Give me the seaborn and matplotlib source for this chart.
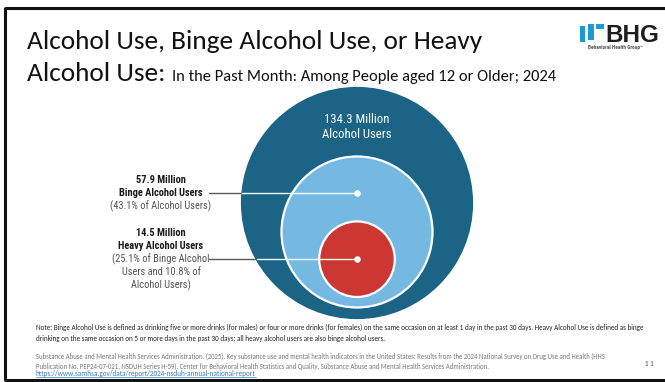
import matplotlib
matplotlib.use("Agg")
import matplotlib.pyplot as plt
import seaborn as sns
import pandas as pd
import numpy as np
from matplotlib.patches import Circle, Polygon

# Past-month alcohol use, people aged 12 or older, 2024 (millions)
groups = ["Alcohol Users", "Binge Alcohol Users", "Heavy Alcohol Users"]
users_millions = [134.3, 57.9, 14.5]
share_notes = ["", "(43.1% of Alcohol Users)",
               "(25.1% of Binge Alcohol\nUsers and 10.8% of\nAlcohol Users)"]
fill_colors = ["#1c6485", "#75b9e3", "#cd3733"]

sns.set_theme(style="white")
SLIDE = ["Carlito", "Lato", "DejaVu Sans"]
NARROW = ["Roboto Condensed", "Barlow Condensed", "Archivo Narrow", "DejaVu Sans"]
plt.rcParams["font.family"] = SLIDE

fig = plt.figure(figsize=(6.65, 3.82), dpi=100)
ax = fig.add_axes([0, 0, 1, 1])

# nested circles, area proportional to the number of users
R_OUT, CX, BASE, STEP = 115, 357, 318, 10.5
radii = [R_OUT * np.sqrt(v / users_millions[0]) for v in users_millions]
centers_y = [BASE - i * STEP - r for i, r in enumerate(radii)]
for i, (r, cy, col) in enumerate(zip(radii, centers_y, fill_colors)):
    ax.add_patch(Circle((CX, cy), r, facecolor=col,
                        edgecolor="white" if i else col, lw=1.6, zorder=2 + i))

# markers and leader lines for the two inner groups: gray on the page,
# white once they cross into the outer circle
dot_y = [centers_y[1] - 0.51 * radii[1], centers_y[2]]
dots = pd.DataFrame({"x": [CX, CX], "y": dot_y, "group": groups[1:]})
for y in dot_y:
    x_edge = CX - np.sqrt(radii[0] ** 2 - (y - centers_y[0]) ** 2)
    ax.plot([209, x_edge], [y, y], color="#5a5a5a", lw=1.0, zorder=5)
    ax.plot([x_edge, CX], [y, y], color="white", lw=1.0, zorder=5)
sns.scatterplot(data=dots, x="x", y="y", color="white", s=22,
                edgecolor="white", linewidth=0, zorder=6, ax=ax, legend=False)

ax.set_xlim(0, 665)
ax.set_ylim(382, 0)
ax.set_aspect("equal")
ax.axis("off")

# slide frame
ax.plot([5, 665], [8, 8], color="#111111", lw=2.2, solid_capstyle="butt")
ax.plot([5, 5], [7, 380], color="#111111", lw=2.2, solid_capstyle="butt")
ax.plot([4, 665], [380, 380], color="#111111", lw=2.2, solid_capstyle="butt")

# label inside the outer circle
ax.text(CX, 127, f"{users_millions[0]} Million\n{groups[0]}", color="white",
        ha="center", va="center", fontsize=9.2, family=NARROW,
        linespacing=1.15, zorder=8)

# labels to the left, one line at a time; the leader line meets the
# group-name line (binge) or the first share line (heavy)
label_x, LH = 161, 13
binge_lines = [(f"{users_millions[1]} Million", "bold", "#1a1a1a"),
               (groups[1], "bold", "#1a1a1a")] + \
              [(s, "normal", "#555555") for s in share_notes[1].split("\n")]
heavy_lines = [(f"{users_millions[2]} Million", "bold", "#1a1a1a"),
               (groups[2], "bold", "#1a1a1a")] + \
              [(s, "normal", "#555555") for s in share_notes[2].split("\n")]
for lines, y0 in [(binge_lines, dot_y[0] - LH), (heavy_lines, dot_y[1] - 2 * LH)]:
    for k, (txt, wt, col) in enumerate(lines):
        ax.text(label_x, y0 + k * LH, txt, ha="center", va="center",
                fontsize=7.5, fontweight=wt, family=NARROW, color=col)

# title
ax.text(27, 49, "Alcohol Use, Binge Alcohol Use, or Heavy", fontsize=19.7,
        color="#111111", va="baseline", ha="left")
ax.text(27, 81, "Alcohol Use:", fontsize=19.7, color="#111111",
        va="baseline", ha="left")
ax.text(172, 81, "In the Past Month: Among People aged 12 or Older; 2024",
        fontsize=11.9, color="#111111", va="baseline", ha="left")

# logo
logo_blue = "#1c9ad8"
ax.add_patch(Polygon([[580, 26], [585, 26], [585, 42], [580, 42]],
                     closed=True, color=logo_blue, lw=0))
ax.add_patch(Polygon([[588, 24], [594, 24], [594, 40], [588, 40]],
                     closed=True, color=logo_blue, lw=0))
ax.add_patch(Polygon([[596, 24], [604, 24], [604, 29], [596, 29]],
                     closed=True, color=logo_blue, lw=0))
ax.text(605, 42, "BHG", fontsize=17.5, fontweight="bold", color="#1e1e1e",
        va="baseline", ha="left", family=["Liberation Sans", "DejaVu Sans"])
ax.text(616, 49.5, "Behavioral Health Group\u2122", fontsize=3.9,
        fontweight="bold", color="#555555", va="baseline", ha="center",
        family=NARROW)

# note and source
note = ("Note: Binge Alcohol Use is defined as drinking five or more drinks (for males) or four or more "
        "drinks (for females) on the same occasion on at least 1 day in the past 30 days. Heavy Alcohol "
        "Use is defined as binge\ndrinking on the same occasion on 5 or more days in the past 30 days; "
        "all heavy alcohol users are also binge alcohol users.")
ax.text(36, 324, note, fontsize=5.15, color="#222222",
        va="top", ha="left", linespacing=1.55)
source = ("Substance Abuse and Mental Health Services Administration. (2025). Key substance use and mental "
          "health indicators in the United States: Results from the 2024 National Survey on Drug Use and "
          "Health (HHS\nPublication No. PEP24-07-021, NSDUH Series H-59). Center for Behavioral Health "
          "Statistics and Quality, Substance Abuse and Mental Health Services Administration.")
ax.text(36, 352.5, source, fontsize=4.85, color="#777777",
        va="top", ha="left", linespacing=1.55)
link = ax.text(36, 370, "https://www.samhsa.gov/data/report/2024-nsduh-annual-national-report",
               fontsize=5.2, color="#3a78c2", va="top", ha="left")
fig.canvas.draw()
bb = link.get_window_extent().transformed(ax.transData.inverted())
ax.plot([bb.x0, bb.x1], [bb.y0 - 0.3, bb.y0 - 0.3], color="#3a78c2", lw=0.5)
ax.text(645, 366, "1 1", fontsize=5.0, color="#555555",
        va="baseline", ha="left")

fig.savefig("out.png", dpi=100)
